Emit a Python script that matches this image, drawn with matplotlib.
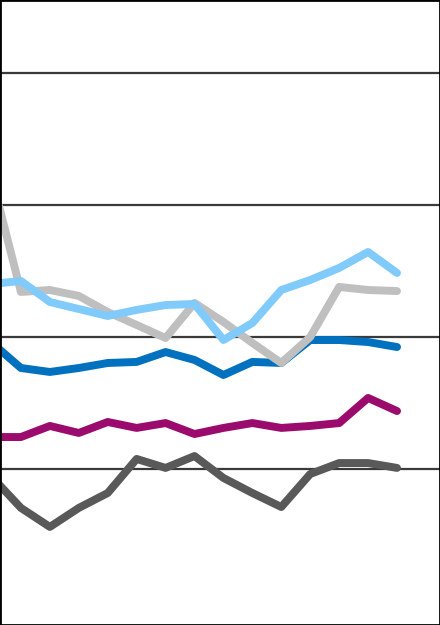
import matplotlib
matplotlib.use("Agg")
import matplotlib.pyplot as plt
import numpy as np

# Periods (unlabelled in the reference)
periods = list(range(15))

light_gray = [22.0, 13.41, 13.56, 13.11, 11.89, 10.91, 9.92, 12.58, 11.14, 9.55, 8.03, 10.0, 13.79, 13.56, 13.48]
light_blue = [14.02, 14.24, 12.65, 12.12, 11.59, 12.05, 12.42, 12.5, 9.77, 11.06, 13.56, 14.32, 15.23, 16.44, 14.85]
dark_blue = [9.55, 7.65, 7.35, 7.65, 8.03, 8.11, 8.86, 8.26, 7.12, 8.11, 8.03, 9.77, 9.77, 9.62, 9.24]
magenta = [2.42, 2.42, 3.26, 2.73, 3.56, 3.11, 3.48, 2.65, 3.11, 3.48, 3.11, 3.26, 3.48, 5.38, 4.39]
dark_gray = [-0.61, -2.95, -4.39, -2.95, -1.82, 0.76, 0.08, 0.98, -0.68, -1.82, -2.88, -0.38, 0.45, 0.45, 0.08]

grid_values = [0, 10, 20, 30]

fig = plt.figure(figsize=(4.4, 6.25), dpi=100)
ax = fig.add_axes([0, 0, 1, 1])

for g in grid_values:
    ax.axhline(g, color="#3a3a3a", lw=1.6, zorder=1)

style = dict(lw=5.7, solid_capstyle="round", solid_joinstyle="round", zorder=2)
ax.plot(periods, dark_gray, color="#595959", **style)
ax.plot(periods, magenta, color="#9B0B6E", **style)
ax.plot(periods, dark_blue, color="#0071BF", **style)
ax.plot(periods, light_gray, color="#BFBFBF", **style)
ax.plot(periods, light_blue, color="#80CBFC", **style)

ax.set_xlim(0.2765, 15.486)
ax.set_ylim(-11.82, 35.53)
ax.set_xticks([])
ax.set_yticks([])
for s in ax.spines.values():
    s.set_color("black")
    s.set_linewidth(2.0)

fig.savefig("out.png", dpi=100)
